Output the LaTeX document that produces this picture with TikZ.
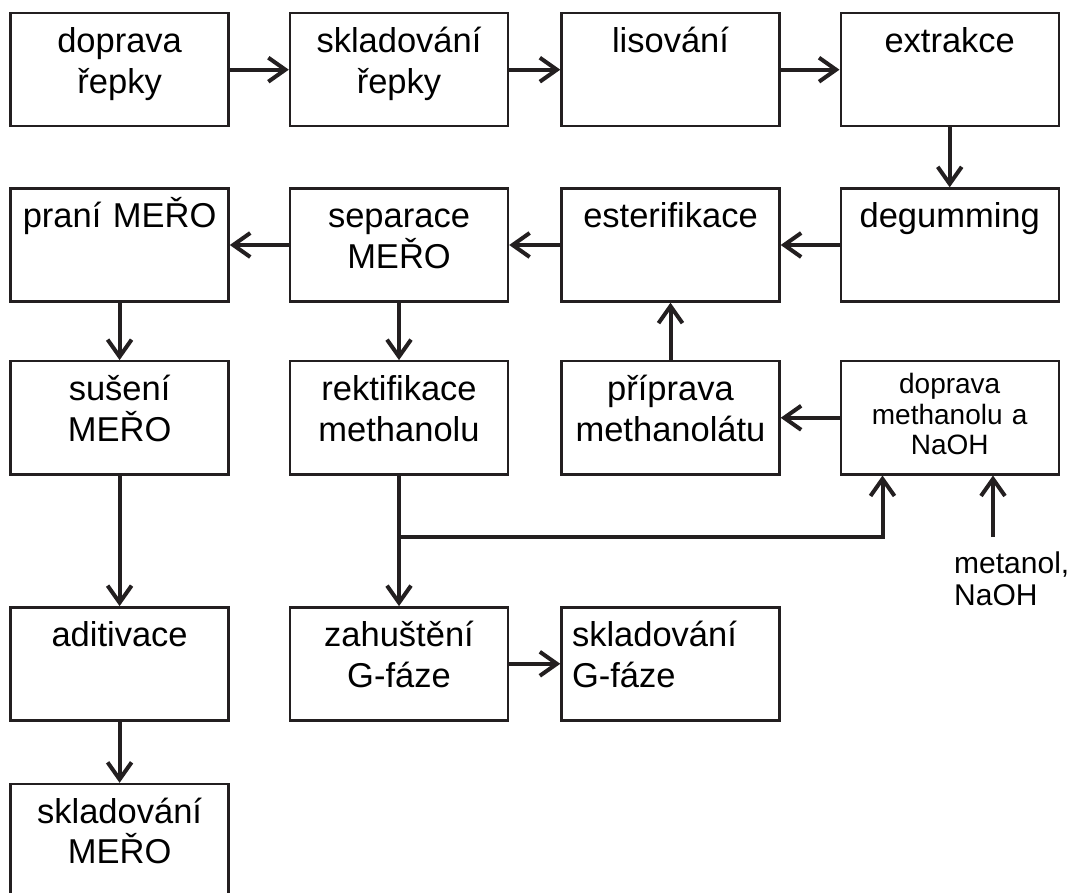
\documentclass[tikz,border=0pt]{standalone}
\usepackage{fontspec}
\setmainfont{Liberation Sans}
\usetikzlibrary{arrows.meta}
\definecolor{ink}{HTML}{231F20}
\begin{document}
\begin{tikzpicture}[x=1pt,y=-1pt,
  box/.style={draw=ink, line width=2.4pt, inner sep=0pt, text width=218pt,
    align=center, text height=39.4pt, text depth=73.6pt,
    font=\fontsize{34.5}{40.5}\selectfont},
  leftbox/.style={box, align=left, text width=197pt, inner xsep=10.5pt},
  smallbox/.style={box, text height=32.4pt, text depth=80.6pt,
    font=\fontsize{28}{30.5}\selectfont},
  label/.style={inner sep=0pt, text width=140pt, align=left,
    font=\fontsize{30}{32}\selectfont},
  ln/.style={draw=ink, line width=4pt},
  arr/.style={ln, -{Straight Barb[length=17pt,width=24pt]}}]
\useasboundingbox (0,0) rectangle (1074,893);
% row 1
\node[box] (dr)  at (119.6,69.7) {doprava\\řepky};
\node[box] (sr)  at (399,69.7)   {skladování\\řepky};
\node[box] (lis) at (670.5,69.7) {lisování};
\node[box] (ext) at (949.7,69.7) {extrakce};
% row 2
\node[box] (pra) at (119.6,245)  {praní MEŘO};
\node[box] (sep) at (399,245)    {separace\\MEŘO};
\node[box] (est) at (670.5,245)  {esterifikace};
\node[box] (deg) at (949.7,245)  {degumming};
% row 3
\node[box] (sus) at (119.6,417.8) {sušení\\MEŘO};
\node[box] (rek) at (399,417.8)   {rektifikace\\methanolu};
\node[box] (pri) at (670.5,417.8) {příprava\\methanolátu};
\node[smallbox] (dm) at (949.7,417.8) {doprava\\methanolu a\\NaOH};
% row 4
\node[box] (adi) at (119.6,663.8) {aditivace};
\node[box] (zah) at (399,663.8)   {zahuštění\\G-fáze};
\node[leftbox] (skg) at (670.5,663.8) {skladování\\G-fáze};
% row 5
\node[box] (skm) at (119.6,840.5) {skladování\\MEŘO};
% input label
\node[label, anchor=base west] (met) at (954,573.3) {metanol,\\NaOH};
% connectors
\draw[arr] (dr.east) -- (sr.west);
\draw[arr] (sr.east) -- (lis.west);
\draw[arr] (lis.east) -- (ext.west);
\draw[arr] (ext.south) -- (deg.north);
\draw[arr] (deg.west) -- (est.east);
\draw[arr] (est.west) -- (sep.east);
\draw[arr] (sep.west) -- (pra.east);
\draw[arr] (pra.south) -- (sus.north);
\draw[arr] (sep.south) -- (rek.north);
\draw[arr] (pri.north) -- (est.south);
\draw[arr] (dm.west) -- (pri.east);
\draw[arr] (sus.south) -- (adi.north);
\draw[arr] (adi.south) -- (skm.north);
\draw[arr] (rek.south) -- (zah.north);
\draw[arr] (zah.east) -- (skg.west);
\coordinate (j) at (399,537);
\draw[arr] (j) -| ([xshift=43pt]dm.south west);
\coordinate (mt) at (993,537);
\draw[arr] (mt) -- (mt |- dm.south);
\end{tikzpicture}
\end{document}
